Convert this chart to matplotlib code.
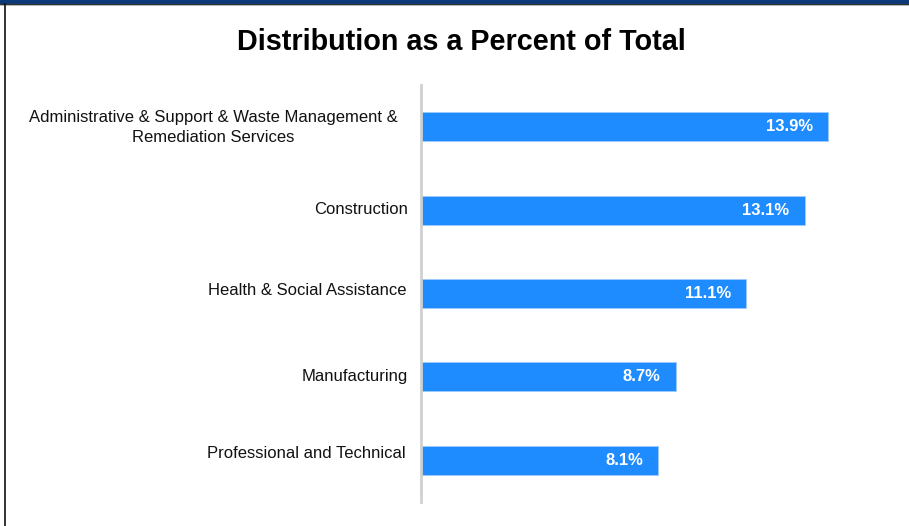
import matplotlib.pyplot as plt
from matplotlib.lines import Line2D
from matplotlib.patches import Rectangle

plt.rcParams['font.family'] = ['Liberation Sans', 'DejaVu Sans']

categories = ['Administrative & Support & Waste Management &\nRemediation Services',
              'Construction',
              'Health & Social Assistance',
              'Manufacturing',
              'Professional and Technical']
values = [13.9, 13.1, 11.1, 8.7, 8.1]
value_labels = ['13.9%', '13.1%', '11.1%', '8.7%', '8.1%']

# small nudges of the category labels, in pixels (as placed in the original)
label_dx = [-23, -13, -15, -13, -15]
label_dy = [-0.5, 1, 3.5, 0, 7]

fig = plt.figure(figsize=(9.09, 5.26), dpi=100)
ax = fig.add_axes([421 / 909, 1 - 502 / 526, 453.8 / 909, 417 / 526])

ypos = list(range(len(categories)))
bars = ax.barh(ypos, values, height=0.35, color='#1E8BFF',
               edgecolor='#9fcbff', linewidth=0.6)
ax.set_ylim(len(categories) - 0.5, -0.5)
ax.set_xlim(0, 15.5)

for b, lab in zip(bars, value_labels):
    ax.annotate(lab, (b.get_width(), b.get_y() + b.get_height() / 2),
                xytext=(-15, 0), textcoords='offset pixels',
                ha='right', va='center', color='white',
                fontsize=12, fontweight='bold')

for y, cat, dx, dy in zip(ypos, categories, label_dx, label_dy):
    ax.annotate(cat, (0, y), xycoords=('axes fraction', 'data'),
                xytext=(dx, dy), textcoords='offset pixels',
                ha='right', va='center', multialignment='center',
                linespacing=1.4, fontsize=12, color='#111111',
                annotation_clip=False)

ax.set_yticks([])
ax.set_xticks([])
for s in ['top', 'right', 'bottom']:
    ax.spines[s].set_visible(False)
ax.spines['left'].set_color('#d0d0d0')
ax.spines['left'].set_linewidth(2)

fig.text(461 / 909, 1 - 41.5 / 526, 'Distribution as a Percent of Total',
         ha='center', va='center', fontsize=20.7, fontweight='bold')

# frame lines of the slide
fig.patches.append(Rectangle((0, 1 - 3.5 / 526), 1, 3.5 / 526,
                             transform=fig.transFigure, color='#0a3a7a'))
fig.lines.append(Line2D([0, 1], [1 - 4 / 526] * 2, transform=fig.transFigure,
                        color='#333333', linewidth=1))
fig.lines.append(Line2D([4.5 / 909] * 2, [0, 1 - 4 / 526], transform=fig.transFigure,
                        color='#111111', linewidth=1.2))

fig.savefig('out.png', dpi=100)
